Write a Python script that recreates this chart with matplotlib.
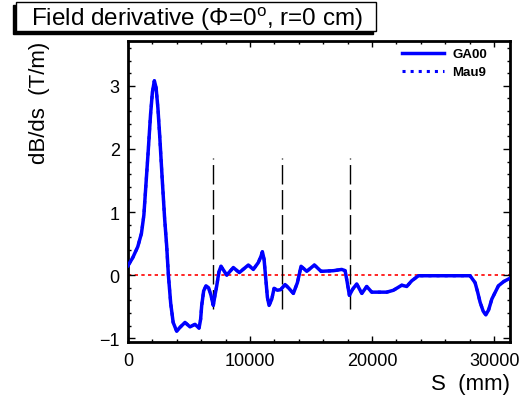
import matplotlib
matplotlib.use('Agg')
import matplotlib.pyplot as plt
from matplotlib.patches import Rectangle
from matplotlib.ticker import MultipleLocator

plt.rcParams['font.family'] = ['Liberation Sans', 'DejaVu Sans']
plt.rcParams['mathtext.fontset'] = 'custom'
plt.rcParams['mathtext.rm'] = 'Liberation Sans'
plt.rcParams['mathtext.it'] = 'Liberation Sans'

# field derivative along S
s_mm = [0, 400, 800, 1100, 1300, 1475, 1650, 1850, 2000, 2160, 2300, 2450,
        2600, 2810, 3000, 3170, 3310, 3500, 3700, 3990, 4250, 4670, 5080,
        5490, 5820, 5950, 6040, 6200, 6390, 6600, 6800, 6990, 7100, 7270,
        7450, 7620, 8090, 8630, 9120, 9860, 10270, 10680, 10900, 11010,
        11150, 11290, 11420, 11560, 11780, 11970, 12240, 12510, 12870, 13140,
        13550, 13880, 14180, 14650, 15270, 15820, 16830, 17510, 17790, 17950,
        18140, 18420, 18740, 19160, 19560, 19970, 21200, 21750, 22430, 22840,
        23250, 23800, 28030, 28440, 28650, 28850, 29100, 29320, 29550, 29810,
        30350, 30800, 31300]
ga00 = [0.15, 0.28, 0.45, 0.66, 0.95, 1.45, 1.95, 2.55, 2.9, 3.08, 2.97, 2.65,
        2.2, 1.5, 0.9, 0.46, 0.0, -0.45, -0.75, -0.89, -0.83, -0.75, -0.82,
        -0.78, -0.84, -0.7, -0.48, -0.25, -0.17, -0.2, -0.32, -0.48, -0.35,
        -0.17, 0.05, 0.14, 0.0, 0.12, 0.04, 0.16, 0.09, 0.2, 0.3, 0.37,
        0.25, -0.06, -0.35, -0.48, -0.38, -0.21, -0.24, -0.23, -0.15, -0.2,
        -0.29, -0.12, 0.14, 0.06, 0.16, 0.06, 0.07, 0.09, 0.07, -0.1,
        -0.32, -0.22, -0.14, -0.29, -0.18, -0.27, -0.27, -0.24, -0.16, -0.18,
        -0.09, -0.01, -0.01, -0.12, -0.27, -0.43, -0.57, -0.63, -0.55, -0.38,
        -0.17, -0.1, -0.05]
mau9 = ga00  # coincides with GA00 everywhere

markers_s = [6970, 12620, 18200]

fig = plt.figure(figsize=(5.23, 4.02), dpi=100)
ax = fig.add_axes([128 / 523, 1 - 343 / 402, 382 / 523, 301 / 402])

ax.axhline(0, color='red', ls=(0, (2, 2)), lw=1.2, zorder=1)
for s in markers_s:
    ax.plot([s, s], [-0.54, 1.85], color='black', lw=1, ls=(0, (14, 4)), zorder=2)
ax.plot(s_mm, mau9, color='blue', ls=':', lw=2.2, label='Mau9', zorder=3)
ax.plot(s_mm, ga00, color='blue', lw=2.5, label='GA00', zorder=4)

ax.set_xlim(0, 31300)
ax.set_ylim(-1.06, 3.71)
ax.xaxis.set_major_locator(MultipleLocator(10000))
ax.xaxis.set_minor_locator(MultipleLocator(2000))
ax.yaxis.set_major_locator(MultipleLocator(1))
ax.yaxis.set_minor_locator(MultipleLocator(0.2))
ax.tick_params(which='both', direction='in', top=True, right=True, labelsize=13, width=1)
ax.tick_params(axis='x', which='major', length=4, pad=7)
ax.tick_params(axis='x', which='minor', length=2)
ax.tick_params(axis='y', which='major', length=5, pad=6)
ax.tick_params(axis='y', which='minor', length=2.5)
for sp in ax.spines.values():
    sp.set_linewidth(2)

h, l = ax.get_legend_handles_labels()
ax.legend(h[::-1], l[::-1], loc='upper left', bbox_to_anchor=(402 / 523, 1 - 49 / 402),
          bbox_transform=fig.transFigure, frameon=False,
          prop={'weight': 'bold', 'size': 9.5}, handlelength=3.2, handletextpad=0.6,
          borderpad=0, borderaxespad=0, labelspacing=0.45)

fig.text(0.975, 0.03, 'S  (mm)', ha='right', va='baseline', fontsize=16)
fig.text(0.075, 1 - 42 / 402, 'dB/ds  (T/m)', ha='center', va='top', rotation=90, fontsize=16)

# title box with ROOT-like shadow
fig.patches.append(Rectangle((13 / 523, 1 - 35 / 402), 360 / 523, 29 / 402,
                             transform=fig.transFigure, fc='black', ec='black', zorder=0))
fig.patches.append(Rectangle((16 / 523, 1 - 32 / 402), 360 / 523, 29 / 402,
                             transform=fig.transFigure, fc='white', ec='black', lw=1, zorder=1))
fig.text(197 / 523, 1 - 19 / 402, r'Field derivative ($\Phi$=0$^{\rm o}$, r=0 cm)',
         ha='center', va='center', fontsize=17.5)

fig.savefig('out.png', dpi=100)
